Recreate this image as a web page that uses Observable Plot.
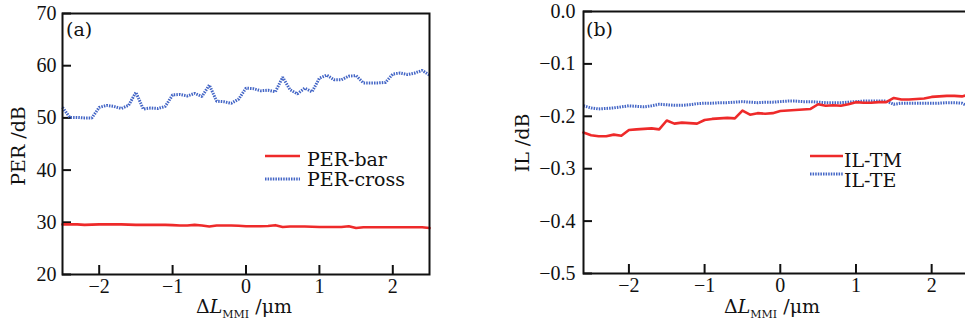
<!DOCTYPE html>
<html>
<head>
<meta charset="utf-8">
<script src="https://cdn.jsdelivr.net/npm/d3@7"></script>
<script src="https://cdn.jsdelivr.net/npm/@observablehq/plot@0.6"></script>
<style>
  html, body { margin: 0; padding: 0; background: #fff; }
  #wrap { position: relative; width: 965px; height: 325px; overflow: hidden; background: #fff; }
  #wrap svg { position: absolute; top: 0; }
</style>
</head>
<body>
<div id="wrap"></div>
<script>
// ---- Data ----
const dLa = [-2.5,-2.4,-2.3,-2.2,-2.1,-2.0,-1.9,-1.8,-1.7,-1.6,-1.5,-1.4,-1.3,-1.2,-1.1,-1.0,-0.9,-0.8,-0.7,-0.6,-0.5,-0.4,-0.3,-0.2,-0.1,0.0,0.1,0.2,0.3,0.4,0.5,0.6,0.7,0.8,0.9,1.0,1.1,1.2,1.3,1.4,1.5,1.6,1.7,1.8,1.9,2.0,2.1,2.2,2.3,2.4,2.5];
const perBar = [29.6,29.6,29.6,29.5,29.55,29.6,29.6,29.6,29.6,29.55,29.5,29.5,29.5,29.5,29.5,29.45,29.4,29.4,29.5,29.4,29.2,29.4,29.4,29.4,29.35,29.25,29.25,29.25,29.3,29.45,29.1,29.2,29.2,29.2,29.15,29.1,29.1,29.1,29.1,29.25,28.9,29.05,29.05,29.05,29.05,29.05,29.05,29.05,29.05,29.05,28.9];
const perCross = [52.0,50.1,50.1,50.0,50.0,52.0,52.4,52.2,51.8,52.4,54.9,51.7,51.9,51.8,52.2,54.4,54.5,54.2,54.7,54.1,56.3,53.2,53.1,52.8,53.6,55.7,55.6,55.2,55.3,55.0,57.8,55.4,54.6,55.7,55.0,57.6,58.2,57.3,57.3,58.0,58.1,56.7,56.7,56.7,56.8,58.4,58.6,58.3,58.6,59.1,58.2];

const dLb = [-2.6,-2.5,-2.4,-2.3,-2.2,-2.1,-2.0,-1.9,-1.8,-1.7,-1.6,-1.5,-1.4,-1.3,-1.2,-1.1,-1.0,-0.9,-0.8,-0.7,-0.6,-0.5,-0.4,-0.3,-0.2,-0.1,0.0,0.1,0.2,0.3,0.4,0.5,0.6,0.7,0.8,0.9,1.0,1.1,1.2,1.3,1.4,1.5,1.6,1.7,1.8,1.9,2.0,2.1,2.2,2.3,2.4,2.5];
const ilTM = [-0.231,-0.236,-0.238,-0.238,-0.235,-0.237,-0.226,-0.225,-0.224,-0.223,-0.225,-0.208,-0.214,-0.212,-0.213,-0.214,-0.207,-0.205,-0.204,-0.203,-0.204,-0.189,-0.197,-0.194,-0.195,-0.194,-0.190,-0.189,-0.188,-0.187,-0.186,-0.177,-0.180,-0.179,-0.180,-0.177,-0.173,-0.174,-0.174,-0.173,-0.173,-0.165,-0.168,-0.168,-0.167,-0.166,-0.163,-0.162,-0.161,-0.161,-0.162,-0.158];
const ilTE = [-0.180,-0.184,-0.186,-0.185,-0.184,-0.182,-0.180,-0.181,-0.182,-0.180,-0.177,-0.178,-0.179,-0.179,-0.178,-0.176,-0.175,-0.175,-0.174,-0.174,-0.173,-0.172,-0.173,-0.174,-0.173,-0.173,-0.172,-0.171,-0.171,-0.172,-0.172,-0.173,-0.174,-0.174,-0.174,-0.173,-0.172,-0.171,-0.171,-0.171,-0.171,-0.177,-0.175,-0.175,-0.175,-0.175,-0.175,-0.175,-0.174,-0.174,-0.175,-0.182];

const xTicks = [-2, -1, 0, 1, 2];
const yTicksA = [20, 30, 40, 50, 60, 70];
const yTicksB = [-0.5, -0.4, -0.3, -0.2, -0.1, 0.0];

const RED = "#ee2a2a";
const BLUE = "#4466c6";
const DASH = "1.5,1.1";
const NUMFONT = "Liberation Serif";
const TXTFONT = "DejaVu Serif";

const tableA = dLa.map((x, i) => ({x, bar: perBar[i], cross: perCross[i]}));
const tableB = dLb.map((x, i) => ({x, tm: ilTM[i], te: ilTE[i]}));

const fmtInt = d3.format("d");
const fmt1 = d3.format(".1f");

function basePlot(opts) {
  return Plot.plot({
    width: opts.width,
    height: 325,
    marginLeft: opts.ml,
    marginRight: opts.mr,
    marginTop: opts.mt,
    marginBottom: opts.mb,
    style: {fontFamily: NUMFONT, fontSize: "20px", background: "transparent", overflow: "visible", color: "#111"},
    x: {domain: opts.xd},
    y: {domain: opts.yd},
    marks: [
      Plot.axisX({ticks: xTicks, tickFormat: fmtInt, tickSize: -9, tickPadding: 13, strokeWidth: 2, label: null}),
      Plot.axisY({ticks: opts.yt, tickFormat: opts.yf, tickSize: -9, tickPadding: opts.ytp, strokeWidth: 2, label: null}),
      Plot.line(opts.data, {x: "x", y: opts.k2, stroke: BLUE, strokeWidth: 3, strokeDasharray: DASH, strokeLinecap: "butt", strokeLinejoin: "miter"}),
      Plot.line(opts.data, {x: "x", y: opts.k1, stroke: RED, strokeWidth: 2.6}),
      Plot.frame({stroke: "#111", strokeWidth: 2})
    ]
  });
}

function txt(sel) {
  return sel.append("text").attr("text-anchor", "start").attr("font-family", TXTFONT)
    .attr("font-size", 19).attr("fill", "#111");
}

function decorate(svg, o) {
  const s = d3.select(svg);
  // panel label
  txt(s).attr("x", o.px).attr("y", 36).text(o.panel);
  // y label
  txt(s).attr("transform", `translate(${o.ylx},${o.yly}) rotate(-90)`)
    .attr("text-anchor", "middle").attr("dominant-baseline", "central").text(o.ylabel);
  // x label with italic L and subscript
  const t = txt(s).attr("x", o.xlx).attr("y", 313).attr("text-anchor", "middle");
  t.append("tspan").text("Δ");
  t.append("tspan").attr("font-style", "italic").text("L");
  t.append("tspan").attr("font-size", 11).attr("dy", 5).text("MMI");
  t.append("tspan").attr("dy", -5).text(" /μm");
  // legend
  const L = o.legend;
  L.items.forEach((it) => {
    s.append("line").attr("x1", L.x1).attr("x2", L.x2).attr("y1", it.ly).attr("y2", it.ly)
      .attr("stroke", it.color).attr("stroke-width", it.dash ? 3 : 2.6)
      .attr("stroke-dasharray", it.dash ? DASH : null);
    txt(s).attr("x", L.tx).attr("y", it.ty).text(it.label);
  });
}

const wrap = document.getElementById("wrap");

const svgA = basePlot({width: 440, ml: 62, mr: 11, mt: 13, mb: 51, xd: [-2.5, 2.5], yd: [20, 70],
  yt: yTicksA, yf: fmtInt, ytp: 15, data: tableA, k1: "bar", k2: "cross"});
svgA.style.left = "0px";
wrap.appendChild(svgA);
decorate(svgA, {panel: "(a)", px: 66, ylabel: "PER /dB", ylx: 18, yly: 146, xlx: 244,
  legend: {x1: 265, x2: 300, tx: 307, items: [
    {label: "PER-bar", color: RED, dash: false, ly: 156, ty: 166},
    {label: "PER-cross", color: BLUE, dash: true, ly: 179, ty: 186}
  ]}});

const svgB = basePlot({width: 495, ml: 103, mr: 6, mt: 11, mb: 52, xd: [-2.6, 2.5], yd: [-0.5, 0],
  yt: yTicksB, yf: fmt1, ytp: 17, data: tableB, k1: "tm", k2: "te"});
svgB.style.left = "480px";
wrap.appendChild(svgB);
decorate(svgB, {panel: "(b)", px: 106, ylabel: "IL /dB", ylx: 42, yly: 143, xlx: 292,
  legend: {x1: 330, x2: 363, tx: 364, items: [
    {label: "IL-TM", color: RED, dash: false, ly: 156, ty: 167},
    {label: "IL-TE", color: BLUE, dash: true, ly: 174, ty: 187}
  ]}});
</script>
</body>
</html>
